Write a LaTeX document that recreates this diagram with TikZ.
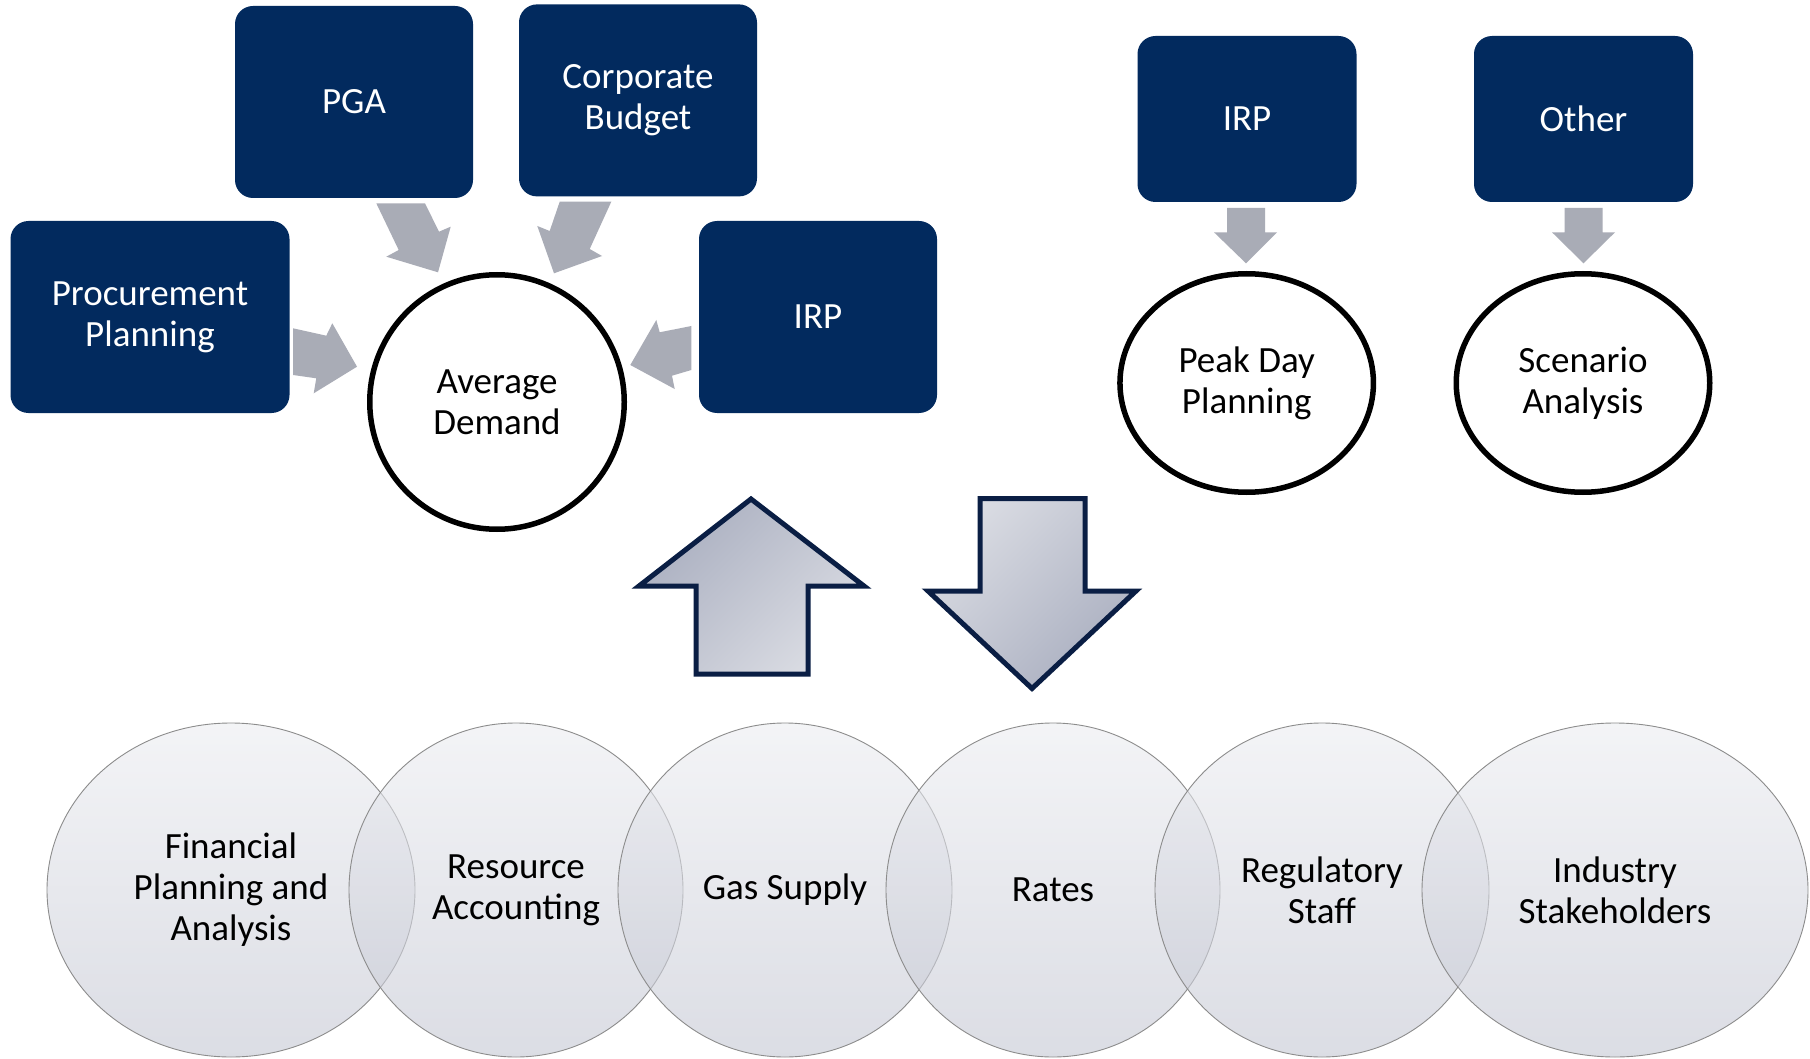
\documentclass[tikz,border=0pt]{standalone}
\usepackage{fontspec}
\setmainfont{Carlito}
\usetikzlibrary{shapes.geometric}
\definecolor{navy}{RGB}{2,42,94}
\definecolor{arrowgray}{RGB}{169,172,182}
\definecolor{bigline}{RGB}{10,30,68}
\definecolor{bigdark}{RGB}{170,175,192}
\definecolor{biglight}{RGB}{218,220,227}
\definecolor{ovtop}{RGB}{236,237,241}
\definecolor{ovbot}{RGB}{196,199,211}
\definecolor{ovline}{RGB}{140,140,140}
\newcommand{\diafont}{\fontsize{37}{41}\selectfont}
\tikzset{
  navybox/.style={fill=navy, rounded corners=18pt, text=white, font=\diafont, align=center, inner sep=0pt},
  ringnode/.style={draw=black, line width=5.5pt, fill=white, font=\diafont, align=center, inner sep=0pt},
  grayarrow/.style={fill=arrowgray, draw=none},
  bigarrow/.style={draw=bigline, line width=5pt, miter limit=10},
  overlapnode/.style={ellipse, draw=ovline, line width=0.9pt, top color=ovtop, bottom color=ovbot,
     fill opacity=0.6, text opacity=1, draw opacity=1, font=\diafont, align=center, inner sep=0pt, minimum height=334pt}
}
\begin{document}
\begin{tikzpicture}[x=1pt,y=1pt]
\useasboundingbox (0,0) rectangle (1810,-1059);
\fill[white] (0,0) rectangle (1810,-1059);

% dark boxes
\node[navybox, minimum width=238pt, minimum height=192pt] (pga) at (354,-102) {PGA};
\node[navybox, minimum width=238pt, minimum height=192pt] (corp) at (638,-100.4) {Corporate\\Budget};
\node[navybox, minimum width=279pt, minimum height=192pt] (proc) at (150,-317) {Procurement\\Planning};
\node[navybox, minimum width=238pt, minimum height=192pt] (irpl) at (818,-317) {IRP};
\node[navybox, minimum width=219pt, minimum height=166pt] (irpr) at (1247,-119) {IRP};
\node[navybox, minimum width=219pt, minimum height=166pt] (other) at (1583.5,-119) {Other};

% circles
\node[ringnode, circle, minimum size=254.5pt] (avg) at (497,-402) {Average\\Demand};
\node[ringnode, ellipse, minimum width=253.5pt, minimum height=218.5pt] (peak) at (1246.7,-383) {Peak Day\\Planning};
\node[ringnode, ellipse, minimum width=253.5pt, minimum height=218.5pt] (scen) at (1583,-383) {Scenario\\Analysis};

% gray arrows into Average Demand
\begin{scope}[xshift=-2pt]
\fill[grayarrow] (378.3,-203.3) -- (427,-203.3) -- (441,-231.7) -- (452.7,-226.7) -- (440,-272.3) -- (388.3,-256.7) -- (400.7,-250) -- cycle;
\fill[grayarrow] (561.7,-201.7) -- (613.3,-201.7) -- (591.7,-249) -- (604,-256) -- (556,-273.3) -- (539.3,-226) -- (551.7,-231) -- cycle;
\fill[grayarrow] (295,-328.3) -- (328.3,-335.7) -- (334.3,-323.3) -- (359,-366.7) -- (315.7,-393.3) -- (318.3,-378.3) -- (295,-375) -- cycle;
\fill[grayarrow] (693.3,-326) -- (661.7,-332.3) -- (658.3,-320) -- (632.3,-365) -- (676.7,-389) -- (674,-375.7) -- (693.3,-370) -- cycle;

% gray arrows down
\fill[grayarrow] (1229,-208) -- (1267,-208) -- (1267,-232.3) -- (1279,-232.3) -- (1248,-263.3) -- (1216,-232.3) -- (1229,-232.3) -- cycle;
\fill[grayarrow] (1566.5,-208) -- (1604.7,-208) -- (1604.7,-232.3) -- (1617,-232.3) -- (1585.5,-263.3) -- (1554,-232.3) -- (1566.5,-232.3) -- cycle;
\end{scope}

% big arrows
\path[bigarrow, top color=bigdark, bottom color=biglight, shading angle=45]
  (751,-499) -- (864,-586) -- (808,-586) -- (808,-674) -- (696,-674) -- (696,-586) -- (639,-586) -- cycle;
\path[bigarrow, top color=biglight, bottom color=bigdark, shading angle=45]
  (980,-498.5) -- (1085,-498.5) -- (1085,-591) -- (1136,-591) -- (1032,-688.5) -- (928,-591) -- (980,-591) -- cycle;

% overlapping ellipses
\node[overlapnode, minimum width=368pt] (fpa) at (231,-890) {Financial\\Planning and\\Analysis};
\node[overlapnode, minimum width=334pt] (ra) at (516,-890) {Resource\\Accounting};
\node[overlapnode, minimum width=334pt] (gas) at (785,-890) {Gas Supply};
\node[overlapnode, minimum width=334pt] (rates) at (1053,-890) {Rates};
\node[overlapnode, minimum width=334pt] (reg) at (1322,-890) {Regulatory\\Staff};
\node[overlapnode, minimum width=386pt] (ind) at (1615,-890) {Industry\\Stakeholders};
\end{tikzpicture}
\end{document}
